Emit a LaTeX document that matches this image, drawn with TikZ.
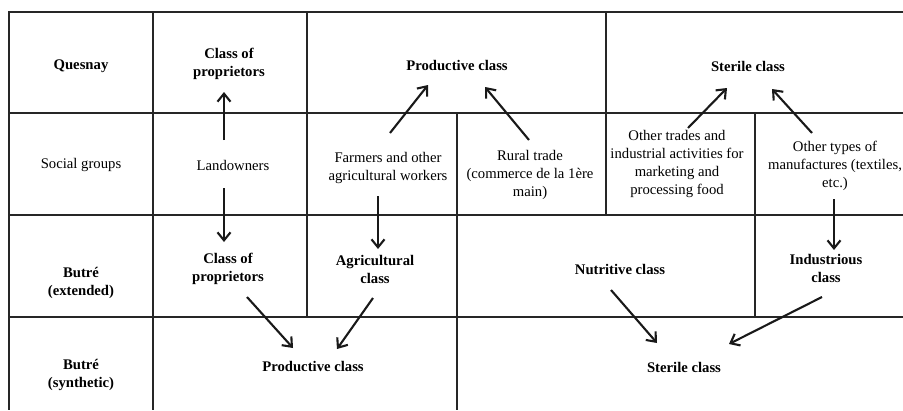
\documentclass[tikz,border=0pt]{standalone}
\usepackage{fontspec}
\setmainfont{Liberation Serif}
\usetikzlibrary{arrows.meta}

\tikzset{
  grid/.style={line width=1.4pt, draw=black!85},
  sep/.style={line width=2pt, draw=black!85},
  cell/.style={align=center, inner sep=0pt, font=\fontsize{14.7}{18}\selectfont},
  head/.style={cell, font=\fontsize{14.7}{18}\selectfont\bfseries},
  arr/.style={line width=2.1pt, draw=black!90, -{Straight Barb[length=8pt,width=13pt]}},
}

\begin{document}
\begin{tikzpicture}[x=1pt, y=-1pt]
\useasboundingbox (0,0) rectangle (903,410);

% table lines
\draw[grid] (903,12) -- (9,12) -- (9,410);
\draw[grid] (9,113) -- (903,113);
\draw[grid] (9,215) -- (903,215);
\draw[grid] (9,317) -- (903,317);
\draw[sep] (153,12) -- (153,410);
\draw[sep] (307,12) -- (307,317);
\draw[sep] (457,113) -- (457,410);
\draw[sep] (606,12) -- (606,215);
\draw[sep] (755,113) -- (755,317);

% Quesnay
\node[head] (qlab)  at (81,66)  {Quesnay};
\node[head] (qprop) at (229,64) {Class of\\proprietors};
\node[head] (qprod) at (457,65) {Productive class};
\node[head] (qster) at (748,66) {Sterile class};

% social groups
\node[cell] (slab)   at (81,165)  {Social groups};
\node[cell] (land)   at (233,165) {Landowners};
\node[cell] (farm)   at (388,168) {Farmers and other\\agricultural workers};
\node[cell] (rural)  at (530,175) {Rural trade\\(commerce de la 1ère\\main)};
\node[cell] (trades) at (677,164) {Other trades and\\industrial activities for\\marketing and\\processing food};
\node[cell] (manuf)  at (835,166) {Other types of\\manufactures (textiles,\\etc.)};

% Butre extended
\node[head] (bext)  at (81,283)  {Butré\\(extended)};
\node[head] (bprop) at (228,269) {Class of\\proprietors};
\node[head] (agri)  at (375,269) {Agricultural\\class};
\node[head] (nutr)  at (620,269) {Nutritive class};
\node[head] (indus) at (826,268) {Industrious\\class};

% Butre synthetic
\node[head] (bsyn)  at (81,375)  {Butré\\(synthetic)};
\node[head] (sprod) at (313,366) {Productive class};
\node[head] (sster) at (684,367) {Sterile class};

% arrows
\draw[arr] ([shift={(-9,-25)}]land.center) -- ([shift={(-5,28)}]qprop.center);
\draw[arr] ([shift={(-9,23)}]land.center) -- ([shift={(-4,-27)}]bprop.center);
\draw[arr] ([shift={(2,-35)}]farm.center) -- ([shift={(-29,20)}]qprod.center);
\draw[arr] ([shift={(-1,-35)}]rural.center) -- ([shift={(28,22)}]qprod.center);
\draw[arr] ([shift={(11,-36)}]trades.center) -- ([shift={(-21,22)}]qster.center);
\draw[arr] ([shift={(-23,-33)}]manuf.center) -- ([shift={(24,23)}]qster.center);
\draw[arr] ([shift={(-10,28)}]farm.center) -- ([shift={(3,-20)}]agri.center);
\draw[arr] ([shift={(-1,33)}]manuf.center) -- ([shift={(8,-18)}]indus.center);
\draw[arr] ([shift={(19,28)}]bprop.center) -- ([shift={(-20,-18)}]sprod.center);
\draw[arr] ([shift={(-2,29)}]agri.center) -- ([shift={(24,-17)}]sprod.center);
\draw[arr] ([shift={(-9,21)}]nutr.center) -- ([shift={(-27,-24)}]sster.center);
\draw[arr] ([shift={(-4,29)}]indus.center) -- ([shift={(45,-23)}]sster.center);
\end{tikzpicture}
\end{document}
